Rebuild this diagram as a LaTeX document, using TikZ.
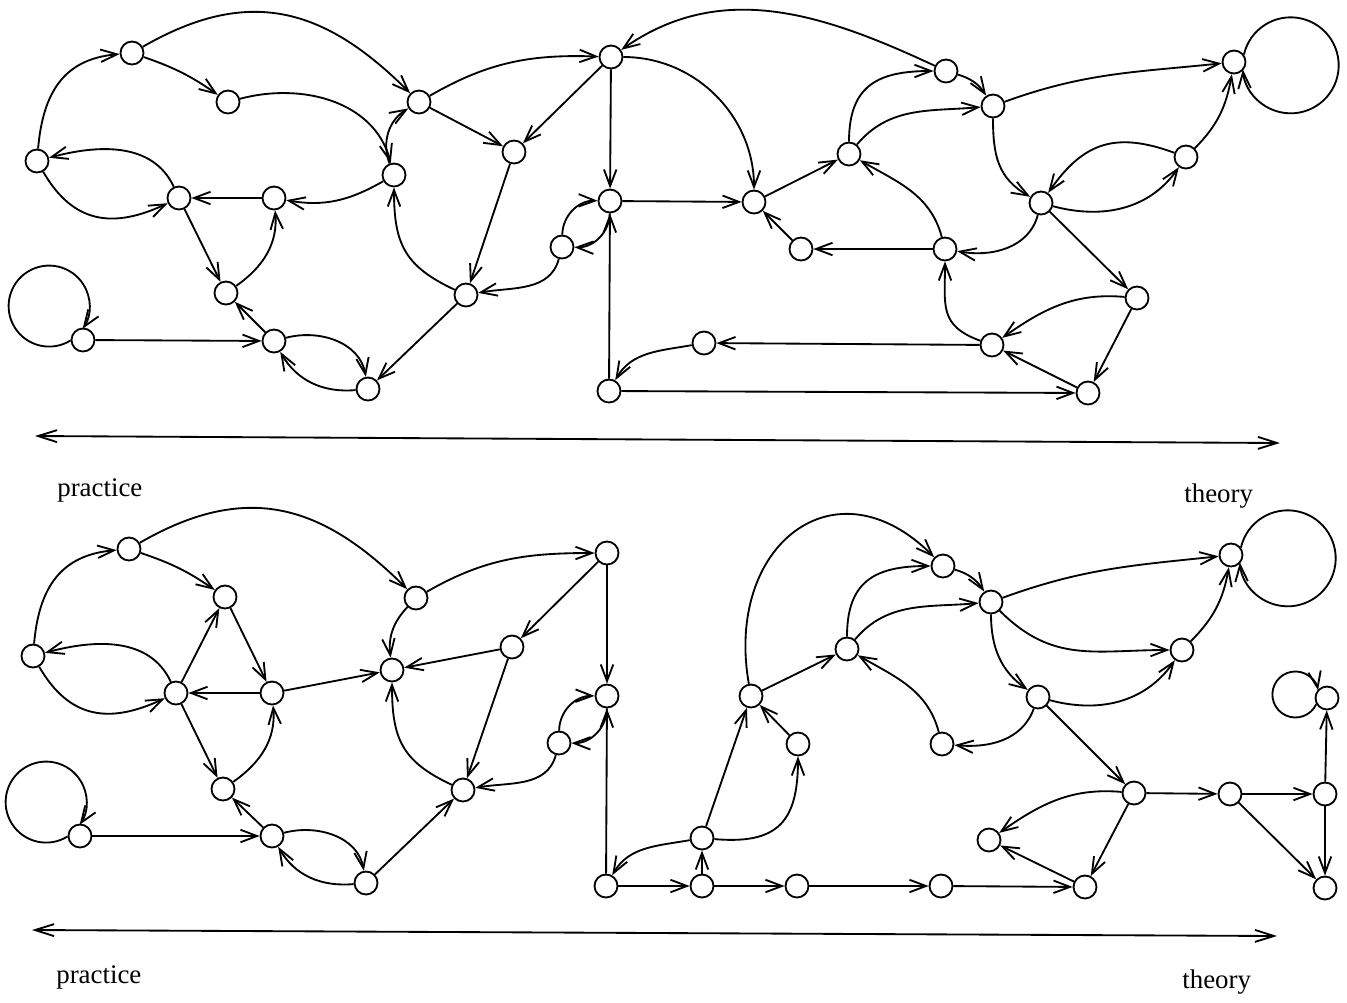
\documentclass[tikz,border=0pt]{standalone}
\usepackage{fontspec}
\setmainfont{Liberation Serif}
\usetikzlibrary{arrows.meta}

\begin{document}
\begin{tikzpicture}[x=0.02cm, y=0.02cm,
      st/.style={draw, circle, fill=white, minimum size=0.46cm, inner sep=0pt, line width=1.05pt},
      arr/.style={-{Straight Barb[length=3.3mm, width=2.5mm]}, line width=1.05pt},
      ax/.style={{Straight Barb[length=3.8mm, width=2.4mm]}-{Straight Barb[length=3.8mm, width=2.4mm]}, line width=1.05pt},
      lbl/.style={font=\fontsize{15.3}{18}\selectfont, inner sep=0pt, anchor=base west}]
    \useasboundingbox (0,0) rectangle (1347,-1002);
    % upper graph: states
    \foreach \n/\x/\y in {t1/132/53, t2/228/102, t3/37/161, t4/179/198, t5/274/198,
        t6/226/293, t7/83/340, t8/274/341, t9/368/389, t10/419/102, t11/394/175,
        t12/514/152, t13/466/295, t14/611/57, t15/610/201, t16/562/247, t17/609/391,
        t18/754/202, t19/801/249, t20/849/154, t21/946/71, t22/993/106, t23/945/249,
        t24/704/343, t25/992/345, t26/1234/62, t27/1186/157, t28/1041/203,
        t29/1137/298, t30/1088/393} {
      \node[st] (\n) at (\x,-\y) {};
    }
    % upper graph: straight moves
    \foreach \a/\b in {t5/t4, t4/t6, t8/t6, t7/t8, t10/t12, t14/t12, t12/t13, t13/t9,
        t14/t15, t17/t15, t15/t18, t19/t18, t18/t20, t23/t19, t28/t29, t29/t30,
        t30/t25, t17/t30, t25/t24} {
      \draw[arr] (\a) -- (\b);
    }
    % upper graph: curved moves
    \draw[arr] (t1) to[bend left=8] (t2);
    \draw[arr] (t3) to[out=85, in=185, looseness=1.15] (t1);
    \draw[arr] (t1) to[out=30, in=135, looseness=1.15] (t10);
    \draw[arr] (t2) to[out=15, in=105] (t11);
    \draw[arr] (t4) to[out=115, in=15] (t3);
    \draw[arr] (t3) to[out=-60, in=-155, looseness=1.2] (t4);
    \draw[arr] (t11) to[out=210, in=-10] (t5);
    \draw[arr] (t6) to[out=35, in=-85] (t5);
    \draw[arr] (t8) to[out=15, in=100] (t9);
    \draw[arr] (t9) to[out=185, in=-60] (t8);
    \draw[arr] (t11) to[bend left=40] (t10);
    \draw[arr] (t10) to[out=30, in=178] (t14);
    \draw[arr] (t13) to[out=155, in=-90, looseness=1.2] (t11);
    \draw[arr] (t16) to[bend left=45] (t15);
    \draw[arr] (t15) to[bend left=45] (t16);
    \draw[arr] (t16) to[out=-105, in=10] (t13);
    \draw[arr] (t14) to[out=0, in=90] (t18);
    \draw[arr] (t21) to[out=155, in=35] (t14);
    \draw[arr] (t20) to[out=90, in=180, looseness=1.3] (t21);
    \draw[arr] (t20) to[out=50, in=185] (t22);
    \draw[arr] (t21) to[bend left=20] (t22);
    \draw[arr] (t23) to[out=105, in=-30] (t20);
    \draw[arr] (t28) to[out=-105, in=-10] (t23);
    \draw[arr] (t25) to[out=160, in=-90, looseness=1.3] (t23);
    \draw[arr] (t22) to[out=20, in=186] (t26);
    \draw[arr] (t22) to[out=-90, in=150, looseness=1.1] (t28);
    \draw[arr] (t27) to[out=160, in=55, looseness=1.2] (t28);
    \draw[arr] (t28) to[out=-15, in=-125] (t27);
    \draw[arr] (t27) to[out=45, in=-100] (t26);
    \draw[arr] (t29) to[out=175, in=35] (t25);
    \draw[arr] (t24) to[out=190, in=60] (t17);
    % upper graph: self loops
    \draw[arr] (t7.182) arc[start angle=-58, end angle=-394, radius=40.5];
    \draw[arr] (t26.37) arc[start angle=167, end angle=-175, radius=48];

    % upper scale
    \coordinate (pl1) at (35,-436);
    \coordinate (th1) at (1280,-443);
    \draw[ax] (pl1) -- (th1);
    \node[lbl] (prac1) at (57,-496) {practice};
    \node[lbl] (theo1) at (1184,-502) {theory};

    % lower graph: states
    \foreach \n/\x/\y in {b1/129/549, b2/225/597, b3/33/656, b4/176/693, b5/272/693,
        b6/223/789, b7/80/836, b8/272/836, b9/366/883, b10/416/598, b11/392/670,
        b12/512/647, b13/463/790, b14/607/553, b15/607/696, b16/559/743, b17/606/886,
        b18/751/696, b19/798/744, b20/847/649, b21/943/566, b22/991/602, b23/942/744,
        b24/702/838, b25/702/886, b26/797/886, b27/941/886, b28/989/840,
        b29/1231/555, b30/1182/650, b31/1038/697, b32/1134/793, b33/1085/887,
        b34/1230/794, b35/1325/794, b36/1327/698, b37/1325/888} {
      \node[st] (\n) at (\x,-\y) {};
    }
    % lower graph: straight moves
    \foreach \a/\b in {b4/b2, b2/b5, b5/b4, b4/b6, b8/b6, b7/b8, b5/b11, b12/b11,
        b14/b12, b12/b13, b9/b13, b14/b15, b17/b15, b17/b25, b25/b24, b25/b26,
        b26/b27, b27/b33, b24/b18, b19/b18, b18/b20, b31/b32, b32/b33, b33/b28,
        b32/b34, b34/b35, b34/b37, b35/b37, b35/b36} {
      \draw[arr] (\a) -- (\b);
    }
    % lower graph: curved moves
    \draw[arr] (b1) to[bend left=8] (b2);
    \draw[arr] (b3) to[out=85, in=185, looseness=1.15] (b1);
    \draw[arr] (b1) to[out=30, in=135, looseness=1.15] (b10);
    \draw[arr] (b4) to[out=115, in=15] (b3);
    \draw[arr] (b3) to[out=-60, in=-155, looseness=1.2] (b4);
    \draw[arr] (b6) to[out=35, in=-85] (b5);
    \draw[arr] (b8) to[out=15, in=100] (b9);
    \draw[arr] (b9) to[out=185, in=-60] (b8);
    \draw[arr] (b10) to[bend right=25] (b11);
    \draw[arr] (b10) to[out=30, in=180] (b14);
    \draw[arr] (b13) to[out=155, in=-90, looseness=1.2] (b11);
    \draw[arr] (b16) to[bend left=45] (b15);
    \draw[arr] (b15) to[bend left=45] (b16);
    \draw[arr] (b16) to[out=-105, in=10] (b13);
    \draw[arr] (b24) to[out=190, in=60] (b17);
    \draw[arr] (b24) to[out=-5, in=-90, looseness=1.4] (b19);
    \draw[arr] (b18) to[out=100, in=135, looseness=1.6] (b21);
    \draw[arr] (b20) to[out=90, in=180, looseness=1.3] (b21);
    \draw[arr] (b20) to[out=50, in=185] (b22);
    \draw[arr] (b21) to[bend left=20] (b22);
    \draw[arr] (b23) to[out=105, in=-30] (b20);
    \draw[arr] (b31) to[out=-110, in=-5] (b23);
    \draw[arr] (b22) to[out=20, in=186] (b29);
    \draw[arr] (b22) to[out=-45, in=180, looseness=1.1] (b30);
    \draw[arr] (b22) to[out=-90, in=145] (b31);
    \draw[arr] (b31) to[out=-15, in=-125] (b30);
    \draw[arr] (b30) to[out=45, in=-100] (b29);
    \draw[arr] (b32) to[out=175, in=35] (b28);
    % lower graph: self loops
    \draw[arr] (b7.182) arc[start angle=-58, end angle=-394, radius=40.5];
    \draw[arr] (b29.37) arc[start angle=167, end angle=-175, radius=48];
    \draw[arr] (b36.210) arc[start angle=-25, end angle=-349.6, radius=23];

    % lower scale
    \coordinate (pl2) at (32,-930);
    \coordinate (th2) at (1277,-936);
    \draw[ax] (pl2) -- (th2);
    \node[lbl] (prac2) at (56,-983) {practice};
    \node[lbl] (theo2) at (1182,-988) {theory};
  \end{tikzpicture}
\end{document}
